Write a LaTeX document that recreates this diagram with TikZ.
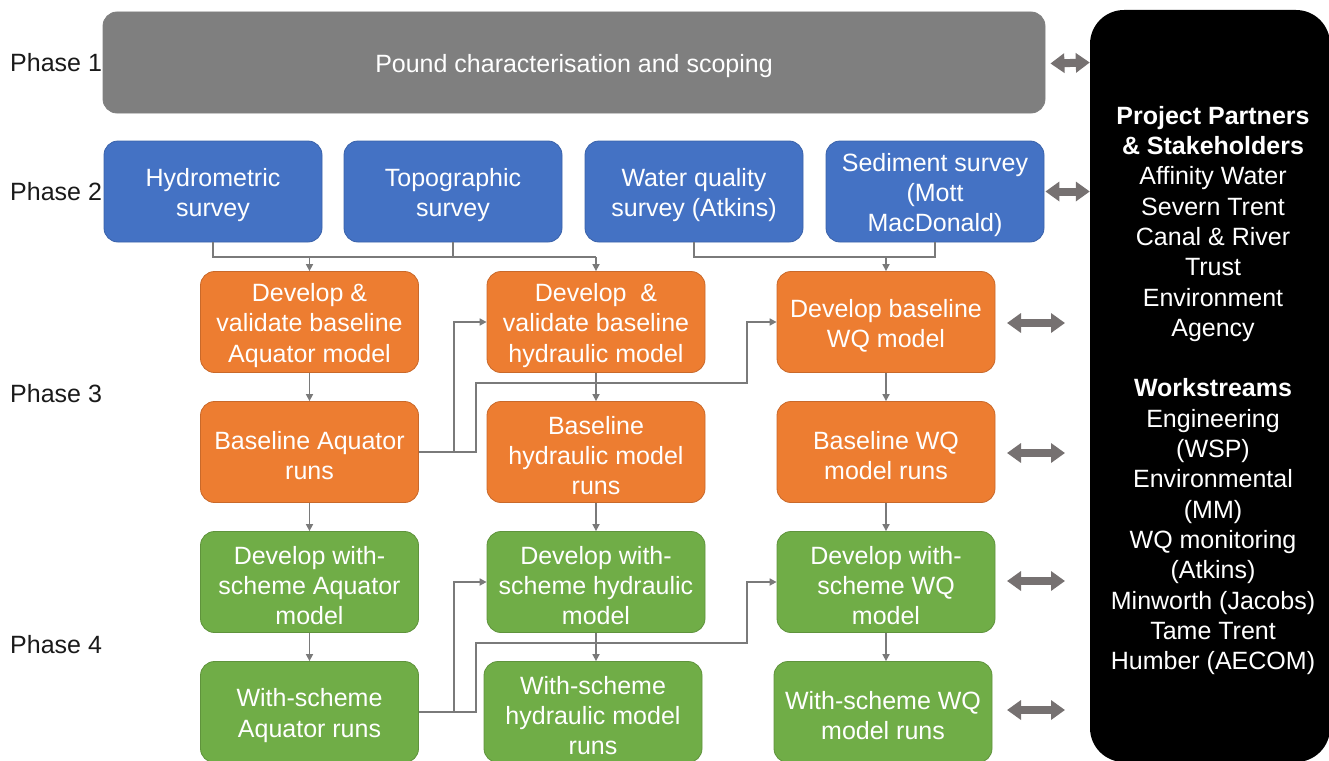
\documentclass[tikz,border=0pt]{standalone}
\usepackage{fontspec}
\setmainfont{Liberation Sans}
\usetikzlibrary{arrows.meta,calc}
\definecolor{pgrey}{HTML}{7F7F7F}
\definecolor{pblue}{HTML}{4472C4}
\definecolor{pblueb}{HTML}{3A62AA}
\definecolor{porange}{HTML}{ED7D31}
\definecolor{poranb}{HTML}{C9692A}
\definecolor{pgreen}{HTML}{70AD47}
\definecolor{pgreenb}{HTML}{5F933C}
\definecolor{conncol}{HTML}{7A7A7A}
\definecolor{dblcol}{HTML}{767171}
\definecolor{labcol}{HTML}{1A1A1A}
\begin{document}
\begin{tikzpicture}[x=1pt,y=-1pt,
  every node/.style={font=\fontsize{25}{30.3}\selectfont},
  boxtext/.style={text=white, align=center, inner sep=0pt, yshift=-3.5pt},
  box/.style={rounded corners=14pt, minimum width=218pt, minimum height=101pt,
    inner sep=0pt, line width=0.8pt, label={[boxtext]center:{#1}}},
  bluebox/.style={box={#1}, fill=pblue, draw=pblueb},
  orbox/.style={box={#1}, fill=porange, draw=poranb},
  grbox/.style={box={#1}, fill=pgreen, draw=pgreenb},
  phaselab/.style={anchor=west, text=labcol, inner sep=0pt},
  conn/.style={draw=conncol, line width=1.6pt},
  arr/.style={conn, -{Triangle[length=7pt,width=7pt]}},
  dbl/.style={draw=dblcol, line width=8pt,
    {Triangle[length=14pt,width=19pt]}-{Triangle[length=14pt,width=19pt]}}
]
\useasboundingbox (0,0) rectangle (1329,760);
\begin{scope}
\clip (0,0) rectangle (1329,760);

% black panel
\node[fill=black, rounded corners=34pt, minimum width=240pt, minimum height=752pt, inner sep=0pt] (bb) at (1210,386) {};
\node[text=white, align=center, inner sep=0pt] (bbtxt) at (1213,390.5)
  {\textbf{Project Partners}\\ \textbf{\& Stakeholders}\\ Affinity Water\\ Severn Trent\\ Canal \& River\\ Trust\\ Environment\\ Agency\\[30.3pt]
   \textbf{Workstreams}\\ Engineering\\ (WSP)\\ Environmental\\ (MM)\\ WQ monitoring\\ (Atkins)\\ Minworth (Jacobs)\\ Tame Trent\\ Humber (AECOM)};

% phase labels
\node[phaselab] (ph1) at (10,63) {Phase 1};
\node[phaselab] (ph2) at (10,192) {Phase 2};
\node[phaselab] (ph3) at (10,394) {Phase 3};
\node[phaselab] (ph4) at (10,645) {Phase 4};

% phase 1
\node[box={Pound characterisation and scoping}, fill=pgrey, draw=pgrey, minimum width=942pt] (p1) at (574,62.5) {};

% phase 2
\node[bluebox={Hydrometric\\ survey}] (hyd) at (213,191.5) {};
\node[bluebox={Topographic\\ survey}] (top) at (453,191.5) {};
\node[bluebox={Water quality\\ survey (Atkins)}] (wqs) at (694,191.5) {};
\node[bluebox={Sediment survey\\ (Mott\\ MacDonald)}] (sed) at (935,191.5) {};

% phase 3
\node[orbox={Develop \&\\ validate baseline\\ Aquator model}] (daq) at (309.5,322) {};
\node[orbox={Develop\ \ \&\\ validate baseline\\ hydraulic model}] (dhy) at (596,322) {};
\node[orbox={Develop baseline\\ WQ model}] (dwq) at (886,322) {};
\node[orbox={Baseline Aquator\\ runs}] (baq) at (309.5,452) {};
\node[orbox={Baseline\\ hydraulic model\\ runs}] (bhy) at (596,452) {};
\node[orbox={Baseline WQ\\ model runs}] (bwq) at (886,452) {};

% phase 4
\node[grbox={Develop with-\\ scheme Aquator\\ model}] (saq) at (309.5,582) {};
\node[grbox={Develop with-\\ scheme hydraulic\\ model}] (shy) at (596,582) {};
\node[grbox={Develop with-\\ scheme WQ\\ model}] (swq) at (886,582) {};
\node[grbox={With-scheme\\ Aquator runs}] (raq) at (309.5,712) {};
\node[grbox={With-scheme\\ hydraulic model\\ runs}] (rhy) at (593,712) {};
\node[grbox={With-scheme WQ\\ model runs}] (rwq) at (883,712) {};

% phase 2 -> phase 3 connectors
\coordinate (j1) at (213,257);
\coordinate (j2) at (694,257);
\draw[conn] (hyd.south) -- (j1) -- (j1 -| dhy.north);
\draw[conn] (top.south) -- (top.south |- j1);
\draw[arr] (j1 -| daq.north) -- (daq.north);
\draw[arr] (j1 -| dhy.north) -- (dhy.north);
\draw[conn] (wqs.south) -- (j2) -- (j2 -| sed.south) -- (sed.south);
\draw[arr] (j2 -| dwq.north) -- (dwq.north);

% vertical arrows
\foreach \a/\b in {daq/baq,dhy/bhy,dwq/bwq,baq/saq,bhy/shy,bwq/swq,saq/raq,shy/rhy,swq/rwq}
  \draw[arr] (\a.south) -- (\a.south |- \b.north);

% cross links phase 3
\coordinate (k1) at (747,383);
\draw[arr] (baq.east) -- ++(35,0) |- (dhy.west);
\draw[arr] (baq.east) -- ++(57,0) |- (k1) |- (dwq.west);
% cross links phase 4
\coordinate (k2) at (747,643);
\draw[arr] (raq.east) -- ++(35,0) |- (shy.west);
\draw[arr] (raq.east) -- ++(57,0) |- (k2) |- (swq.west);

% double arrows
\draw[dbl] ($(p1.east)+(5,1)$) -- (p1.east -| bb.west);
\draw[dbl] ($(sed.east)+(1,0)$) -- (sed.east -| bb.west);
\coordinate (d3) at (1065,323);
\coordinate (d4) at (1065,453);
\coordinate (d5) at (1065,581);
\coordinate (d6) at (1065,710);
\draw[dbl] (1007,323) -- (d3);
\draw[dbl] (1007,453) -- (d4);
\draw[dbl] (1007,581) -- (d5);
\draw[dbl] (1007,710) -- (d6);
\end{scope}
\end{tikzpicture}
\end{document}
